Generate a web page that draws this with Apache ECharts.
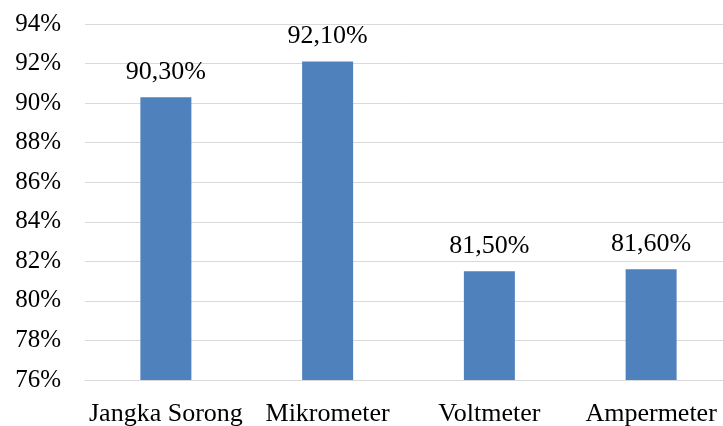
<!DOCTYPE html>
<html>
<head>
<meta charset="utf-8">
<script src="https://cdn.jsdelivr.net/npm/echarts@6/dist/echarts.min.js"></script>
<style>
	html, body { margin: 0; padding: 0; background: #fff; }
	#chart { width: 723px; height: 426px; }
</style>
</head>
<body>
<div id="chart"></div>
<script>
// 数据
var categories = ['Jangka Sorong', 'Mikrometer', 'Voltmeter', 'Ampermeter']
var values = [90.3, 92.1, 81.5, 81.6]
var yMin = 76
var yMax = 94
var yStep = 2

var font = 'Liberation Serif, Times New Roman, serif'

var myChart = echarts.init(document.getElementById('chart'))
var option = {
	animation: false,
	grid: {
		left: 85,
		right: -9,
		top: 24,
		bottom: 46,
		outerBoundsMode: 'none'
	},
	xAxis: {
		type: 'category',
		data: categories,
		axisLine: { lineStyle: { color: '#d9d9d9', width: 1 } },
		axisTick: { show: false },
		axisLabel: {
			interval: 0,
			hideOverlap: false,
			color: '#000',
			fontFamily: font,
			fontSize: 26,
			margin: 21
		}
	},
	yAxis: {
		type: 'value',
		min: yMin,
		max: yMax,
		interval: yStep,
		axisLine: { show: false },
		axisTick: { show: false },
		splitLine: { lineStyle: { color: '#d9d9d9', width: 1 } },
		axisLabel: {
			color: '#000',
			fontFamily: font,
			fontSize: 25,
			margin: 24,
			formatter: function (v) { return v + '%' }
		}
	},
	series: [
		{
			type: 'bar',
			data: values,
			barWidth: 51,
			itemStyle: { color: '#4F81BD' },
			label: {
				show: true,
				position: 'top',
				distance: 12,
				color: '#000',
				fontFamily: font,
				fontSize: 26,
				formatter: function (p) {
					return p.value.toFixed(2).replace('.', ',') + '%'
				}
			}
		}
	]
}
myChart.setOption(option)
</script>
</body>
</html>
